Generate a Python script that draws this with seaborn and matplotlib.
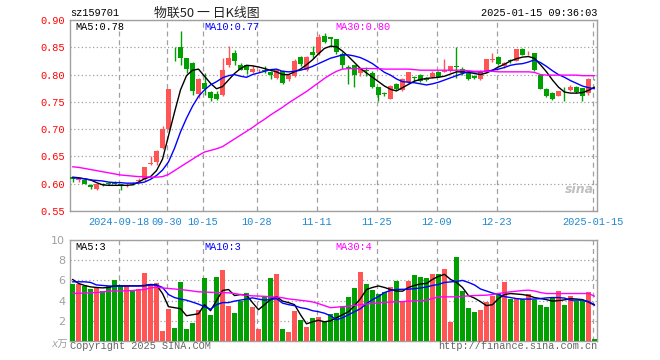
import numpy as np
import matplotlib
matplotlib.use("Agg")
import matplotlib.pyplot as plt
import seaborn as sns

sns.set_style("white")
plt.rcParams["font.family"] = ["Liberation Mono", "Noto Sans CJK SC", "DejaVu Sans"]

RED = "#FF5555"
GREEN = "#00A000"
GRID = "#A0A0A0"
BLUE_TXT = "#1E88D0"

# --- data, one value per trading day ---
opens = [0.612, 0.607, 0.606, 0.598, 0.590, 0.599, 0.601, 0.601, 0.599, 0.595,
         0.602, 0.605, 0.609, 0.636, 0.640, 0.665, 0.700, 0.849, 0.850, 0.830,
         0.822, 0.765, 0.785, 0.768, 0.765, 0.763, 0.817, 0.839, 0.817, 0.817,
         0.804, 0.808, 0.809, 0.805, 0.794, 0.807, 0.791, 0.797, 0.833, 0.808,
         0.842, 0.839, 0.870, 0.868, 0.865, 0.838, 0.814, 0.817, 0.803, 0.808,
         0.802, 0.777, 0.766, 0.756, 0.783, 0.771, 0.786, 0.796, 0.800, 0.794,
         0.796, 0.804, 0.805, 0.806, 0.815, 0.810, 0.805, 0.797, 0.791, 0.804,
         0.827, 0.833, 0.815, 0.826, 0.825, 0.846, 0.839, 0.839, 0.800, 0.774,
         0.767, 0.761, 0.776, 0.771, 0.778, 0.775, 0.766, 0.792]
closes = [0.609, 0.608, 0.600, 0.594, 0.600, 0.597, 0.600, 0.600, 0.596, 0.597,
          0.601, 0.607, 0.630, 0.638, 0.660, 0.700, 0.773, 0.848, 0.830, 0.810,
          0.769, 0.792, 0.773, 0.757, 0.756, 0.809, 0.830, 0.824, 0.809, 0.808,
          0.810, 0.809, 0.806, 0.800, 0.808, 0.785, 0.800, 0.824, 0.819, 0.833,
          0.836, 0.869, 0.860, 0.866, 0.842, 0.817, 0.812, 0.800, 0.810, 0.806,
          0.777, 0.762, 0.764, 0.779, 0.773, 0.792, 0.804, 0.794, 0.788, 0.790,
          0.802, 0.796, 0.807, 0.815, 0.814, 0.802, 0.791, 0.793, 0.806, 0.828,
          0.828, 0.819, 0.822, 0.824, 0.846, 0.836, 0.840, 0.808, 0.774, 0.761,
          0.755, 0.769, 0.775, 0.777, 0.768, 0.761, 0.792, 0.791]
highs = [0.613, 0.612, 0.607, 0.599, 0.601, 0.601, 0.604, 0.605, 0.600, 0.599,
         0.603, 0.610, 0.630, 0.651, 0.661, 0.705, 0.773, 0.850, 0.880, 0.831,
         0.823, 0.793, 0.802, 0.770, 0.770, 0.830, 0.853, 0.845, 0.821, 0.818,
         0.817, 0.811, 0.815, 0.807, 0.810, 0.808, 0.801, 0.828, 0.834, 0.834,
         0.852, 0.874, 0.876, 0.869, 0.866, 0.842, 0.818, 0.818, 0.812, 0.813,
         0.806, 0.778, 0.768, 0.781, 0.785, 0.793, 0.805, 0.797, 0.801, 0.796,
         0.806, 0.806, 0.828, 0.816, 0.851, 0.813, 0.808, 0.800, 0.808, 0.829,
         0.839, 0.834, 0.823, 0.828, 0.847, 0.849, 0.843, 0.840, 0.801, 0.776,
         0.768, 0.770, 0.777, 0.780, 0.779, 0.776, 0.793, 0.792]
lows = [0.603, 0.604, 0.599, 0.591, 0.588, 0.596, 0.598, 0.599, 0.588, 0.594,
        0.598, 0.603, 0.605, 0.634, 0.634, 0.663, 0.697, 0.825, 0.817, 0.802,
        0.763, 0.757, 0.762, 0.751, 0.754, 0.760, 0.814, 0.818, 0.808, 0.801,
        0.802, 0.804, 0.803, 0.791, 0.792, 0.783, 0.789, 0.796, 0.815, 0.806,
        0.831, 0.836, 0.858, 0.850, 0.838, 0.811, 0.783, 0.777, 0.798, 0.797,
        0.775, 0.752, 0.760, 0.755, 0.772, 0.770, 0.784, 0.789, 0.786, 0.788,
        0.794, 0.795, 0.804, 0.804, 0.793, 0.800, 0.790, 0.791, 0.790, 0.802,
        0.823, 0.817, 0.812, 0.822, 0.824, 0.835, 0.836, 0.806, 0.773, 0.759,
        0.753, 0.760, 0.752, 0.770, 0.766, 0.752, 0.763, 0.790]
ma5 = [0.612, 0.611, 0.609, 0.607, 0.602, 0.598, 0.597, 0.597, 0.597, 0.597,
       0.598, 0.603, 0.609, 0.613, 0.624, 0.645, 0.688, 0.731, 0.772, 0.798,
       0.808, 0.810, 0.797, 0.784, 0.774, 0.778, 0.790, 0.802, 0.811, 0.817,
       0.816, 0.814, 0.811, 0.808, 0.805, 0.800, 0.800, 0.805, 0.810, 0.818,
       0.827, 0.838, 0.848, 0.852, 0.851, 0.843, 0.833, 0.822, 0.811, 0.803,
       0.795, 0.787, 0.779, 0.773, 0.770, 0.776, 0.782, 0.788, 0.791, 0.793,
       0.794, 0.795, 0.797, 0.801, 0.805, 0.805, 0.804, 0.802, 0.800, 0.803,
       0.808, 0.814, 0.819, 0.825, 0.829, 0.832, 0.833, 0.830, 0.818, 0.805,
       0.790, 0.777, 0.768, 0.766, 0.766, 0.767, 0.771, 0.777]
ma10 = [0.611, 0.610, 0.609, 0.607, 0.606, 0.605, 0.603, 0.602, 0.602, 0.601,
        0.601, 0.601, 0.603, 0.608, 0.615, 0.625, 0.640, 0.665, 0.695, 0.720,
        0.742, 0.760, 0.772, 0.781, 0.787, 0.794, 0.798, 0.800, 0.797, 0.795,
        0.800, 0.803, 0.806, 0.809, 0.810, 0.806, 0.805, 0.806, 0.808, 0.811,
        0.815, 0.820, 0.825, 0.830, 0.833, 0.836, 0.836, 0.834, 0.831, 0.826,
        0.820, 0.812, 0.804, 0.799, 0.792, 0.787, 0.786, 0.785, 0.783, 0.781,
        0.783, 0.786, 0.790, 0.794, 0.798, 0.802, 0.805, 0.805, 0.805, 0.806,
        0.808, 0.810, 0.813, 0.817, 0.819, 0.820, 0.823, 0.827, 0.822, 0.815,
        0.807, 0.800, 0.795, 0.789, 0.784, 0.779, 0.776, 0.774]
ma30 = [0.631, 0.630, 0.628, 0.626, 0.624, 0.622, 0.620, 0.618, 0.616, 0.615,
        0.614, 0.613, 0.613, 0.612, 0.612, 0.613, 0.617, 0.624, 0.631, 0.638,
        0.645, 0.652, 0.658, 0.661, 0.664, 0.668, 0.675, 0.682, 0.689, 0.696,
        0.703, 0.711, 0.718, 0.726, 0.733, 0.740, 0.748, 0.755, 0.762, 0.769,
        0.777, 0.785, 0.793, 0.800, 0.806, 0.810, 0.811, 0.811, 0.811, 0.811,
        0.811, 0.811, 0.810, 0.810, 0.810, 0.810, 0.810, 0.809, 0.808, 0.808,
        0.808, 0.808, 0.808, 0.808, 0.808, 0.808, 0.807, 0.806, 0.806, 0.806,
        0.806, 0.805, 0.805, 0.805, 0.805, 0.805, 0.805, 0.804, 0.800, 0.799,
        0.799, 0.799, 0.799, 0.799, 0.799, 0.798, 0.798, 0.798]

volumes = [5.63, 5.60, 5.43, 5.17, 5.20, 5.00, 5.43, 6.03, 5.50, 5.40,
           5.00, 5.10, 6.75, 5.63, 5.73, 0.96, 3.15, 1.26, 5.83, 1.16,
           1.75, 3.05, 6.22, 2.55, 6.32, 7.02, 3.44, 2.75, 3.94, 4.73,
           3.34, 1.16, 4.44, 6.22, 6.62, 1.16, 0.86, 2.95, 2.05, 1.36,
           2.25, 2.35, 1.95, 2.65, 2.75, 3.34, 4.34, 5.23, 6.82, 5.63,
           5.03, 4.64, 4.83, 5.33, 5.93, 3.84, 5.93, 6.52, 6.32, 6.22,
           6.62, 6.62, 7.12, 1.85, 8.31, 4.93, 3.24, 2.85, 3.05, 3.84,
           4.44, 4.73, 5.83, 4.14, 4.24, 4.14, 4.64, 4.04, 3.54, 3.34,
           4.34, 4.93, 3.54, 4.44, 3.94, 3.94, 4.83, 0.17]
vma5 = [6.10, 5.70, 5.50, 5.36, 5.30, 5.26, 5.30, 5.45, 5.46, 5.46,
        5.46, 5.46, 5.50, 5.60, 5.55, 4.70, 3.40, 3.30, 3.20, 2.50,
        2.60, 2.70, 3.60, 3.00, 4.00, 5.00, 5.10, 4.50, 4.60, 4.55,
        3.80, 3.10, 3.60, 4.10, 4.40, 3.95, 3.80, 3.60, 2.60, 1.70,
        1.90, 2.05, 1.90, 2.00, 2.30, 2.60, 2.90, 3.50, 4.20, 5.10,
        5.30, 5.45, 5.30, 5.10, 4.95, 4.93, 5.30, 5.50, 5.65, 5.70,
        6.10, 6.40, 6.60, 6.10, 5.80, 5.30, 4.50, 4.25, 3.90, 3.50,
        3.60, 4.20, 4.60, 4.70, 4.65, 4.60, 4.50, 4.30, 4.20, 4.10,
        3.95, 4.00, 4.07, 4.20, 4.15, 4.10, 3.85, 3.55]
vma10 = [5.86, 5.86, 5.86, 5.80, 5.55, 5.50, 5.45, 5.43, 5.43, 5.45,
         5.45, 5.45, 5.46, 5.55, 5.55, 5.30, 4.60, 4.30, 4.15, 4.04,
         3.85, 3.65, 3.40, 3.15, 3.60, 3.80, 3.80, 3.95, 4.05, 4.15,
         4.27, 4.15, 4.05, 4.10, 4.20, 3.75, 3.60, 3.50, 3.30, 3.20,
         3.00, 2.90, 2.75, 2.50, 2.10, 2.30, 2.60, 2.90, 3.20, 3.70,
         4.10, 4.40, 4.80, 5.00, 5.10, 5.12, 5.13, 5.18, 5.25, 5.35,
         5.50, 5.60, 5.80, 5.85, 5.90, 6.00, 5.80, 5.55, 5.15, 4.95,
         4.75, 4.60, 4.40, 4.30, 4.20, 4.15, 4.15, 4.15, 4.20, 4.27,
         4.30, 4.30, 4.25, 4.05, 4.05, 4.04, 3.90, 3.60]
vma30 = [4.70, 4.72, 4.75, 4.77, 4.80, 4.85, 4.93, 4.95, 4.96, 4.97,
         5.00, 5.05, 5.10, 5.25, 5.33, 5.25, 5.20, 5.15, 5.08, 5.03,
         4.95, 4.87, 4.85, 4.82, 4.80, 4.79, 4.77, 4.70, 4.60, 4.52,
         4.47, 4.45, 4.42, 4.38, 4.35, 4.28, 4.17, 4.10, 4.03, 3.96,
         3.87, 3.70, 3.50, 3.30, 3.35, 3.40, 3.44, 3.52, 3.60, 3.66,
         3.72, 3.77, 3.82, 3.86, 3.88, 3.90, 3.94, 3.97, 4.00, 4.04,
         4.20, 4.37, 4.37, 4.37, 4.38, 4.42, 4.47, 4.50, 4.52, 4.54,
         4.60, 4.70, 4.80, 4.87, 4.93, 5.00, 5.03, 4.95, 4.80, 4.70,
         4.70, 4.70, 4.70, 4.70, 4.70, 4.70, 4.70, 4.44]

date_idx = [8, 16, 22, 31, 41, 51, 61, 71, 87]
date_labels = ["2024-09-18", "09-30", "10-15", "10-28", "11-11",
               "11-25", "12-09", "12-23", "2025-01-15"]
price_ticks = [0.55, 0.60, 0.65, 0.70, 0.75, 0.80, 0.85, 0.90]
vol_ticks = [2, 4, 6, 8, 10]

x = np.arange(len(opens))
o, c = np.array(opens), np.array(closes)
colors = np.where(c >= o, RED, GREEN)
grid_x = np.array(date_idx) - 0.3

fig = plt.figure(figsize=(6.6, 3.6), dpi=100)
ax = fig.add_axes([70 / 660, 1 - 211 / 360, 527 / 660, 191 / 360])
axv = fig.add_axes([70 / 660, 1 - 341 / 360, 527 / 660, 101 / 360])

for a in (ax, axv):
    for s in a.spines.values():
        s.set_color(GRID)
        s.set_linewidth(1)
    a.set_xlim(-0.42, 87.42)
    a.tick_params(length=0)
    for gx in grid_x:
        a.axvline(gx, color=GRID, linestyle=(0, (4, 3)), linewidth=0.9, zorder=0)

# --- price panel ---
ax.set_ylim(0.55, 0.90)
ax.set_yticks(price_ticks)
ax.set_yticklabels([f"{t:.2f}" for t in price_ticks], color="red", fontsize=7.4)
ax.yaxis.grid(True, linestyle=(0, (1, 2)), color=GRID, linewidth=0.9)
ax.set_axisbelow(True)

ax.vlines(x, lows, highs, colors=colors, linewidth=1, zorder=2)
body = np.maximum(np.abs(c - o), 0.0012)
ax.bar(x, body, bottom=np.minimum(o, c), width=0.82, color=colors, linewidth=0, zorder=3)

sns.lineplot(x=x, y=ma5, ax=ax, color="black", linewidth=1, legend=False, zorder=4)
sns.lineplot(x=x, y=ma10, ax=ax, color="#0000FF", linewidth=1, legend=False, zorder=4)
sns.lineplot(x=x, y=ma30, ax=ax, color="#FF00FF", linewidth=1, legend=False, zorder=4)

ax.set_xticks(grid_x)
ax.set_xticklabels(date_labels, color=BLUE_TXT, fontsize=7.4)
ax.tick_params(axis="x", pad=4)
ax.set_ylabel("")

ax.text(5 / 527, 0.965, f"MA5:{ma5[-1]:.2f}", transform=ax.transAxes,
        fontsize=7.4, color="black", va="center")
ax.text(134 / 527, 0.965, f"MA10:{ma10[-1]:.2f}", transform=ax.transAxes,
        fontsize=7.4, color="#0000FF", va="center")
ax.text(265 / 527, 0.965, f"MA30:{ma30[-1]:.2f}", transform=ax.transAxes,
        fontsize=7.4, color="#FF00FF", va="center")
ax.text(0.995, 0.11, "sina", transform=ax.transAxes, fontsize=9, color="#C0C0C0",
        fontstyle="italic", fontweight="bold", family="DejaVu Sans", ha="right", va="center")

# --- volume panel ---
axv.set_ylim(0, 10)
axv.set_yticks(vol_ticks)
axv.set_yticklabels([str(t) for t in vol_ticks], color="#A0A0A0", fontsize=8,
                    family="DejaVu Sans")
axv.yaxis.grid(True, linestyle=(0, (1, 2)), color=GRID, linewidth=0.9)
axv.set_axisbelow(True)
axv.set_xticks([])
axv.bar(x, volumes, width=0.82, color=colors, linewidth=0, zorder=3)
sns.lineplot(x=x, y=vma5, ax=axv, color="black", linewidth=1, legend=False, zorder=4)
sns.lineplot(x=x, y=vma10, ax=axv, color="#0000FF", linewidth=1, legend=False, zorder=4)
sns.lineplot(x=x, y=vma30, ax=axv, color="#FF00FF", linewidth=1, legend=False, zorder=4)
axv.set_ylabel("")

# the site truncates volume averages to whole units
axv.text(5 / 527, 0.93, f"MA5:{int(vma5[-1])}", transform=axv.transAxes,
         fontsize=7.4, color="black", va="center")
axv.text(134 / 527, 0.93, f"MA10:{int(vma10[-1])}", transform=axv.transAxes,
         fontsize=7.4, color="#0000FF", va="center")
axv.text(265 / 527, 0.93, f"MA30:{int(vma30[-1])}", transform=axv.transAxes,
         fontsize=7.4, color="#FF00FF", va="center")
axv.text(-0.005, -0.04, "x万", transform=axv.transAxes, fontsize=7.5,
         color="#A0A0A0", ha="right", va="center", fontstyle="italic")

# --- header / footer ---
fig.text(70 / 660, 1 - 13 / 360, "sz159701", fontsize=7.4, color="black", va="center")
fig.text(207 / 660, 1 - 13 / 360, "物联50 一 日K线图", fontsize=9.3, color="#222222",
         ha="center", va="center", family=["Noto Sans CJK SC", "DejaVu Sans"])
fig.text(597 / 660, 1 - 13 / 360, "2025-01-15 09:36:03", fontsize=7.4,
         color="black", ha="right", va="center")
fig.text(70 / 660, 1 - 346 / 360, "Copyright 2025 SINA.COM", fontsize=7.4,
         color="#666666", va="center")
fig.text(597 / 660, 1 - 346 / 360, "http://finance.sina.com.cn", fontsize=7.4,
         color="#666666", ha="right", va="center")

fig.savefig("out.png", dpi=100, facecolor="white")
